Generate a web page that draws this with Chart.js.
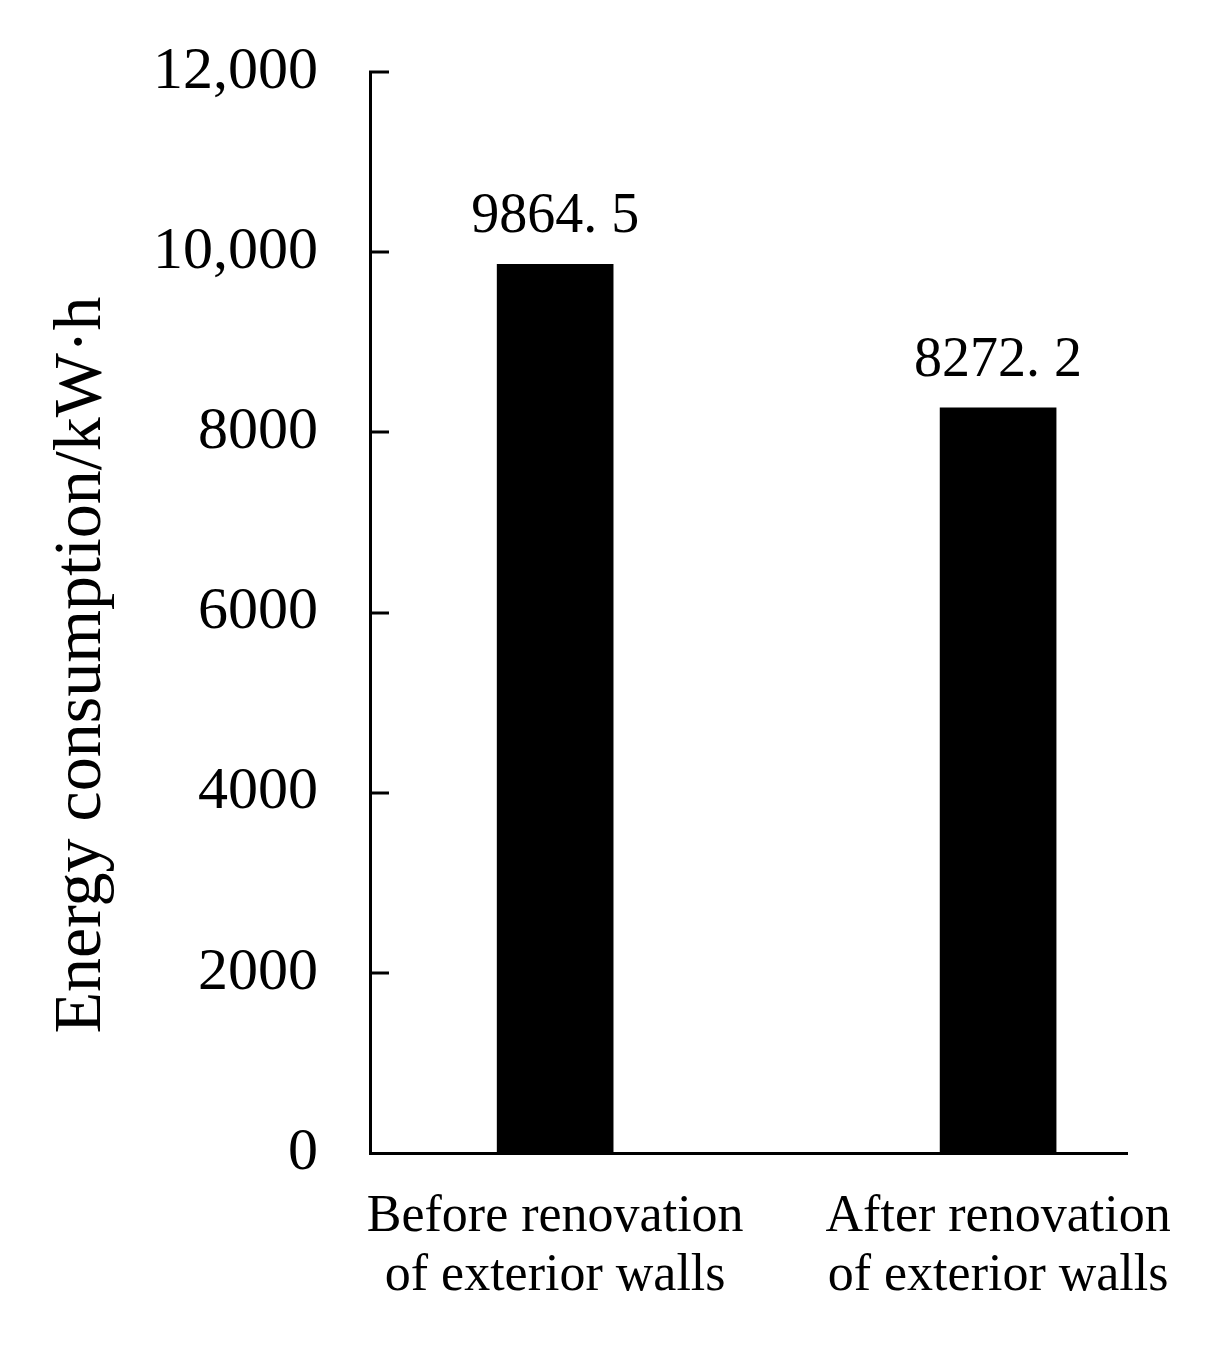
<!DOCTYPE html>
<html lang="en">
<head>
  <meta charset="UTF-8">
  <title>Energy consumption</title>
  <script src="https://cdn.jsdelivr.net/npm/chart.js"></script>
  <style>
    html, body { margin: 0; padding: 0; background: #fff; }
    #wrap { width: 1225px; height: 1360px; }
  </style>
</head>
<body>
  <div id="wrap"><canvas id="energyChart" width="1225" height="1360"></canvas></div>

  <script>
    // data
    const categories = [
      ['Before renovation', 'of exterior walls'],
      ['After renovation', 'of exterior walls']
    ];
    const energyValues = [9864.5, 8272.2];
    const yTicks = [0, 2000, 4000, 6000, 8000, 10000, 12000];
    const yTitle = 'Energy consumption/kW\u00b7h';

    const serif = '"Liberation Serif", "Times New Roman", serif';

    // inward tick marks on the y axis
    const innerTicks = {
      id: 'innerTicks',
      afterDraw(chart) {
        const c = chart.ctx;
        const y = chart.scales.y;
        const left = chart.chartArea.left;
        c.save();
        c.strokeStyle = '#000';
        c.lineWidth = 3;
        yTicks.forEach(v => {
          if (v === 0) return;
          const py = Math.round(y.getPixelForValue(v));
          c.beginPath();
          c.moveTo(left - 1, py);
          c.lineTo(left + 19, py);
          c.stroke();
        });
        c.restore();
      }
    };

    // value labels above bars
    const barLabels = {
      id: 'barLabels',
      afterDatasetsDraw(chart) {
        const c = chart.ctx;
        const meta = chart.getDatasetMeta(0);
        c.save();
        c.fillStyle = '#000';
        c.font = '56px ' + serif;
        c.textAlign = 'center';
        c.textBaseline = 'alphabetic';
        meta.data.forEach((bar, i) => {
          const txt = energyValues[i].toFixed(1).replace('.', '. ');
          c.fillText(txt, bar.x, bar.y - 32);
        });
        c.restore();
      }
    };

    // rotated y axis title
    const yTitlePlugin = {
      id: 'yTitlePlugin',
      afterDraw(chart) {
        const c = chart.ctx;
        c.save();
        c.translate(100, 665);
        c.rotate(-Math.PI / 2);
        c.fillStyle = '#000';
        c.font = '68px ' + serif;
        c.textAlign = 'center';
        c.textBaseline = 'alphabetic';
        c.fillText(yTitle, 0, 0);
        c.restore();
      }
    };

    const ctx = document.getElementById('energyChart').getContext('2d');

    new Chart(ctx, {
      type: 'bar',
      data: {
        datasets: [{
          data: energyValues.map((v, i) => ({ x: i, y: v })),
          backgroundColor: '#000',
          borderWidth: 0,
          barThickness: 116
        }]
      },
      options: {
        responsive: false,
        animation: false,
        layout: { padding: { top: 72, right: 98, left: 0, bottom: 0 } },
        plugins: {
          legend: { display: false },
          tooltip: { enabled: false }
        },
        scales: {
          x: {
            type: 'linear',
            offset: false,
            min: -0.418,
            max: 1.291,
            afterBuildTicks: s => { s.ticks = categories.map((_, i) => ({ value: i })); },
            afterFit: s => { s.height = 207; },
            grid: { display: false, drawTicks: false },
            border: { display: true, color: '#000', width: 3 },
            ticks: {
              padding: 34,
              color: '#000',
              font: { family: serif, size: 52, lineHeight: 1.15 },
              autoSkip: false,
              maxRotation: 0,
              callback: v => categories[v] || ''
            }
          },
          y: {
            min: 0,
            max: 12000,
            afterBuildTicks: s => { s.ticks = yTicks.map(v => ({ value: v })); },
            afterFit: s => { s.width = 370; },
            // invisible tick marks just to push labels away from the axis
            grid: {
              display: true,
              drawOnChartArea: false,
              drawTicks: true,
              tickLength: 48,
              color: 'rgba(0,0,0,0)',
              tickColor: 'rgba(0,0,0,0)'
            },
            border: { display: true, color: '#000', width: 3 },
            ticks: {
              padding: 4,
              color: '#000',
              font: { family: serif, size: 60 },
              callback: v => v >= 10000 ? v.toLocaleString('en-US') : String(v)
            }
          }
        }
      },
      plugins: [innerTicks, barLabels, yTitlePlugin]
    });
  </script>
</body>
</html>
